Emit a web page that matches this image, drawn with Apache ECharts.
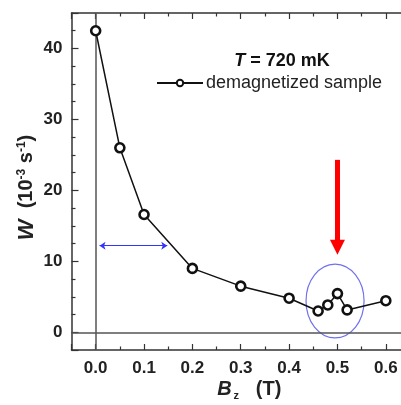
<!DOCTYPE html>
<html>
<head>
<meta charset="utf-8">
<script src="https://cdn.jsdelivr.net/npm/echarts@6/dist/echarts.min.js"></script>
<style>
  html, body { margin: 0; padding: 0; background: #fff; }
  #chart { width: 401px; height: 405px; }
</style>
</head>
<body>
<div id="chart"></div>
<script>
// Relaxation rate W versus longitudinal field Bz at T = 720 mK
const fieldT = [0, 0.05, 0.1, 0.2, 0.3, 0.4, 0.46, 0.48, 0.5, 0.52, 0.6];
const rateW = [42.5, 26.0, 16.6, 9.0, 6.5, 4.8, 3.0, 3.85, 5.45, 3.15, 4.45];

// annotations (data coordinates)
const widthArrow = [[0.008, 12.2], [0.148, 12.2]];
const resonanceArrow = [[0.5, 24.3], [0.5, 12.0]];
const resonanceRing = [0.495, 4.4, 0.06, 5.2]; // cx, cy, rx, ry
const xRange = [-0.05, 0.65];
const yRange = [-2.5, 45];

const FONT = '"Liberation Sans", Arial, sans-serif';
const chart = echarts.init(document.getElementById('chart'), null, { renderer: 'canvas' });

const frame = { show: true, onZero: false, lineStyle: { color: '#333', width: 1.5 } };

chart.setOption({
  animation: false,
  backgroundColor: '#fff',
  title: {
    text: '{i|T}{b| = 720 mK}',
    left: 277, top: 47, textAlign: 'center',
    textStyle: {
      rich: {
        i: { fontFamily: FONT, fontSize: 18, fontWeight: 'bold', fontStyle: 'italic', color: '#111' },
        b: { fontFamily: FONT, fontSize: 18, fontWeight: 'bold', color: '#111' }
      }
    }
  },
  legend: {
    left: 156, top: 74, padding: 0,
    itemWidth: 46, itemHeight: 8, itemGap: 0,
    textStyle: { fontFamily: FONT, fontSize: 18, color: '#222', padding: [0, 0, 0, -2] },
    data: ['demagnetized sample']
  },
  grid: { left: 71.5, right: -9, top: 13, bottom: 55, containLabel: false, outerBoundsMode: 'none' },
  xAxis: [{
    type: 'value', position: 'bottom',
    min: xRange[0], max: xRange[1], splitNumber: 7,
    axisLine: frame,
    axisTick: { inside: true, length: 6, lineStyle: { color: '#333', width: 1.2 } },
    minorTick: { show: true, splitNumber: 2, length: 3.5, lineStyle: { color: '#333', width: 1.2 } },
    splitLine: { show: false },
    axisLabel: {
      showMinLabel: false, showMaxLabel: false, margin: 10,
      fontFamily: FONT, fontSize: 17, fontWeight: 'bold', color: '#222',
      formatter: v => v.toFixed(1)
    },
    name: '{b|B}{z|z}{t|   (T)}',
    nameLocation: 'middle', nameGap: 28, nameMoveOverlap: false,
    nameTextStyle: {
      padding: [0, 0, 0, 17],
      rich: {
        b: { fontFamily: FONT, fontSize: 20, fontWeight: 'bold', fontStyle: 'italic', color: '#222', lineHeight: 22 },
        z: { fontFamily: FONT, fontSize: 11, fontWeight: 'bold', color: '#222', lineHeight: 22, padding: [14, 0, 0, 2] },
        t: { fontFamily: FONT, fontSize: 20, fontWeight: 'bold', color: '#222', lineHeight: 22 }
      }
    }
  }, {
    type: 'value', position: 'top',
    min: xRange[0], max: xRange[1], splitNumber: 7,
    axisLine: frame,
    axisTick: { inside: true, length: 6, lineStyle: { color: '#333', width: 1.2 } },
    minorTick: { show: true, splitNumber: 2, length: 3.5, lineStyle: { color: '#333', width: 1.2 } },
    splitLine: { show: false },
    axisLabel: { show: false }
  }],
  yAxis: [{
    type: 'value', position: 'left',
    min: yRange[0], max: yRange[1], splitNumber: 5,
    axisLine: frame,
    axisTick: { inside: true, length: 7, lineStyle: { color: '#333', width: 1.2 } },
    minorTick: { show: true, splitNumber: 4, length: 4, lineStyle: { color: '#333', width: 1.2 } },
    splitLine: { show: false },
    axisLabel: {
      showMinLabel: false, showMaxLabel: false, margin: 9,
      fontFamily: FONT, fontSize: 17, fontWeight: 'bold', color: '#222'
    },
    name: '{w|W}{n|  (10}{s|-3}{n| s}{s|-1}{n|)}',
    nameLocation: 'middle', nameRotate: 90, nameGap: 34, nameMoveOverlap: false,
    nameTextStyle: {
      padding: [0, 12, 0, 0],
      rich: {
        w: { fontFamily: FONT, fontSize: 22, fontWeight: 'bold', fontStyle: 'italic', color: '#222' },
        n: { fontFamily: FONT, fontSize: 20, fontWeight: 'bold', color: '#222' },
        s: { fontFamily: FONT, fontSize: 12, fontWeight: 'bold', color: '#222', verticalAlign: 'top', padding: [0, 0, 10, 0] }
      }
    }
  }],
  series: [{
    name: 'demagnetized sample',
    type: 'line',
    data: fieldT.map((x, i) => [x, rateW[i]]),
    symbol: 'circle', symbolSize: 9,
    lineStyle: { color: '#111', width: 1.5 },
    itemStyle: { color: '#fff', borderColor: '#111', borderWidth: 2.6 },
    z: 5,
    markLine: {
      silent: true, symbol: 'none', animation: false,
      label: { show: false },
      lineStyle: { color: '#555', width: 1.5, type: 'solid' },
      data: [
        [{ coord: [0, yRange[0]] }, { coord: [0, yRange[1]] }],
        [{ coord: [xRange[0], 0] }, { coord: [xRange[1], 0] }]
      ]
    }
  }, {
    // field-width double arrow
    type: 'line', data: [], silent: true,
    markLine: {
      silent: true, animation: false,
      symbol: ['arrow', 'arrow'], symbolSize: 6,
      label: { show: false },
      lineStyle: { color: '#3333ff', width: 1.2, type: 'solid' },
      data: [[{ coord: widthArrow[0] }, { coord: widthArrow[1] }]]
    }
  }, {
    // resonance marker arrow
    type: 'line', data: [], silent: true,
    markLine: {
      silent: true, animation: false,
      symbol: ['none', 'triangle'], symbolSize: 15,
      label: { show: false },
      lineStyle: { color: '#ff0000', width: 5, type: 'solid', opacity: 1 },
      itemStyle: { color: '#ff0000' },
      data: [[{ coord: resonanceArrow[0] }, { coord: resonanceArrow[1] }]]
    }
  }, {
    // ring around the resonance points
    type: 'custom', silent: true, clip: false, z: 3,
    data: [resonanceRing],
    renderItem: (params, api) => {
      const c = api.coord([api.value(0), api.value(1)]);
      const s = api.size([api.value(2), api.value(3)]);
      return {
        type: 'ellipse',
        shape: { cx: c[0], cy: c[1], rx: s[0], ry: s[1] },
        style: { fill: 'none', stroke: '#7070ee', lineWidth: 1.2 }
      };
    }
  }]
});
</script>
</body>
</html>
